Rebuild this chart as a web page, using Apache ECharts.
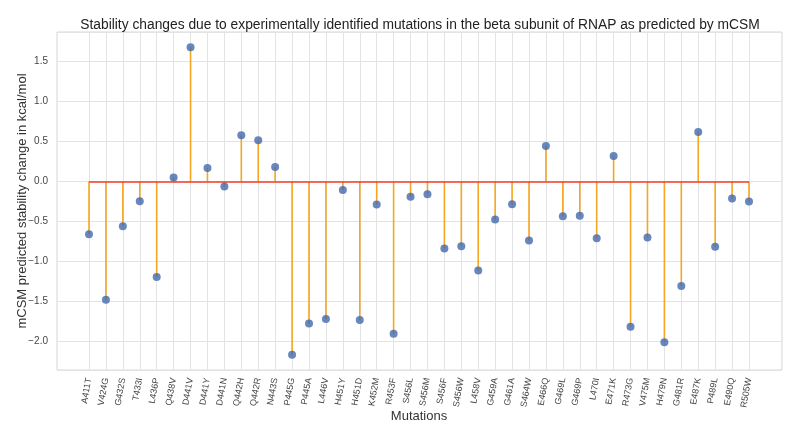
<!DOCTYPE html>
<html><head><meta charset="utf-8">
<script src="https://cdn.jsdelivr.net/npm/echarts@6/dist/echarts.min.js"></script>
<style>html,body{margin:0;padding:0;background:#fff}#c{width:800px;height:427px}</style>
</head><body><div id="c"></div>
<script>
const mutations = ['A411T','V424G','G432S','T433I','L436P','Q438V','D441V','D441Y','D441N','Q442H','Q442R','N443S','P445G','P445A','L446V','H451Y','H451D','K452M','R453F','S456L','S456M','S456F','S456W','L458V','G459A','G461A','S464W','E466Q','G469L','G469P','L470I','E471K','R473G','V475M','H479N','G481R','E487K','P489L','E490Q','R505W'];
const stability = [-0.66,-1.48,-0.56,-0.245,-1.195,0.05,1.68,0.171,-0.062,0.58,0.517,0.184,-2.166,-1.775,-1.72,-0.104,-1.733,-0.287,-1.904,-0.19,-0.158,-0.837,-0.808,-1.112,-0.475,-0.283,-0.737,0.446,-0.433,-0.429,-0.708,0.321,-1.816,-0.70,-2.012,-1.308,0.621,-0.816,-0.212,-0.25];
const yTicks = [-2.0,-1.5,-1.0,-0.5,0.0,0.5,1.0,1.5];
const titleText = 'Stability changes due to experimentally identified mutations in the beta subunit of RNAP as predicted by mCSM';
const yName = 'mCSM predicted stability change in kcal/mol';
const xName = 'Mutations';

const YMIN = -2.358, YMAX = 1.872;
const font = "'Liberation Sans', Arial, sans-serif";
const chart = echarts.init(document.getElementById('c'), null, {renderer:'canvas'});
function fmtY(v){
  for (const t of yTicks){ if (Math.abs(v-t)<1e-6) return (t<0?'\u2212':'') + Math.abs(t).toFixed(1); }
  return '';
}
chart.setOption({
  animation:false,
  backgroundColor:'#fff',
  title:{text:titleText,left:415,top:13,textAlign:'center',
    textStyle:{fontFamily:font,fontSize:13.8,fontWeight:'normal',color:'#222'}},
  grid:[
    {left:57,right:18,top:32,bottom:57,show:true,borderColor:'#d6d6d6',borderWidth:1,backgroundColor:'#fff',outerBoundsMode:'none',containLabel:false},
    {left:89,right:51,top:32,bottom:57,show:false,outerBoundsMode:'none',containLabel:false}
  ],
  xAxis:[
    {gridIndex:0,type:'value',min:0,max:1,show:false},
    {gridIndex:1,type:'category',data:mutations,boundaryGap:false,
     axisLine:{show:false},axisTick:{show:false},
     splitLine:{show:true,interval:0,lineStyle:{color:'#e3e3e3',width:1}},
     axisLabel:{interval:0,rotate:80,margin:8,fontFamily:font,fontSize:9,color:'#444'},
     name:xName,nameLocation:'middle',nameGap:40,nameMoveOverlap:false,
     nameTextStyle:{fontFamily:font,fontSize:13,color:'#333'}}
  ],
  yAxis:[
    {gridIndex:0,type:'value',min:YMIN,max:YMAX,splitNumber:8,
     axisLine:{show:false},axisTick:{show:false},
     splitLine:{show:true,lineStyle:{color:'#e3e3e3',width:1}},
     axisLabel:{formatter:fmtY,margin:9,fontFamily:font,fontSize:10,color:'#444',showMinLabel:false,showMaxLabel:false},
     name:yName,nameLocation:'middle',nameGap:28,nameRotate:90,nameMoveOverlap:false,
     nameTextStyle:{fontFamily:font,fontSize:13,color:'#333'}},
    {gridIndex:1,type:'value',min:YMIN,max:YMAX,show:false,splitLine:{show:false}}
  ],
  series:[
    {type:'bar',xAxisIndex:1,yAxisIndex:1,data:stability,barWidth:1.6,
     itemStyle:{color:'#f5a623'},z:2,silent:true,
     markLine:{symbol:'none',silent:true,label:{show:false},
       lineStyle:{color:'#f03c28',type:'solid',width:1.5},data:[{yAxis:0}],z:3}},
    {type:'scatter',xAxisIndex:1,yAxisIndex:1,data:stability,symbol:'circle',symbolSize:8,
     itemStyle:{color:'#4269ad'},z:4,silent:true}
  ]
});
</script></body></html>
